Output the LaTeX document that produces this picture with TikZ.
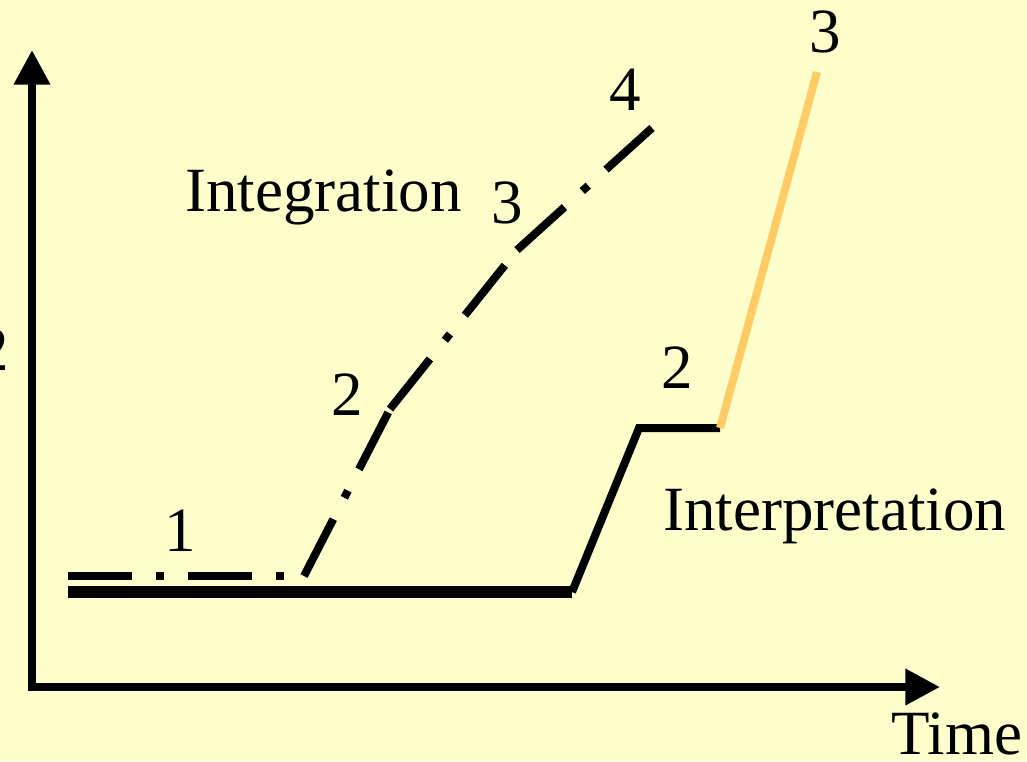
\documentclass[tikz,border=0pt]{standalone}
\usepackage{fontspec}
\setmainfont{Liberation Serif}
\usetikzlibrary{arrows.meta}
\definecolor{bgyellow}{HTML}{FFFFCC}
\definecolor{orangeline}{HTML}{FFCC66}
\begin{document}
\begin{tikzpicture}[x=0.75pt,y=-0.75pt,
  lbl/.style={inner sep=0pt,font=\fontsize{47.25}{50}\selectfont},
  axis/.style={line width=6pt,line join=miter,
    {Triangle[length=26pt,width=26pt]}-{Triangle[length=26pt,width=26pt]}},
  interp/.style={line width=6pt,line join=miter},
  integ/.style={line width=6pt,dash pattern=on 48pt off 18pt on 6pt off 18pt},
  finalseg/.style={line width=6pt,orangeline}]
\fill[bgyellow] (0,0) rectangle (1027,761);
\useasboundingbox (0,0) rectangle (1027,761);
% clipped label fragment at the left edge
\node[lbl,anchor=base east] (ylab) at (9,370) {2};
% axes
\coordinate (ytip) at (32,50);
\coordinate (origin) at (32,687);
\coordinate (xtip) at (940,687);
\draw[axis] (ytip) -- (origin) -- (xtip);
% interpretation curve
\coordinate (a0) at (68,592);
\coordinate (a1) at (572,592);
\coordinate (a2) at (639,428);
\coordinate (a3) at (720,428);
\coordinate (a4) at (817,72);
\draw[line width=8.5pt] (a0) -- (a1);
\draw[interp] (a1) -- (a2) -- (a3);
\draw[finalseg] (a3) -- (a4);
% integration curve
\coordinate (b0) at (68,576);
\coordinate (b1) at (304,576);
\coordinate (b2) at (390,409);
\coordinate (b3) at (517,250);
\coordinate (b4) at (652,128);
\draw[integ] (b0) -- (b1);
\draw[integ] (b1) -- (b2);
\draw[integ] (b2) -- (b3);
\draw[integ] (b3) -- (b4);
% labels
\node[lbl,anchor=base] (n1) at (180,551) {1};
\node[lbl,anchor=base] (n2) at (347,415) {2};
\node[lbl,anchor=base] (n3) at (507,223) {3};
\node[lbl,anchor=base] (n4) at (625,110) {4};
\node[lbl,anchor=base] (m2) at (677,388) {2};
\node[lbl,anchor=base] (m3) at (825,52) {3};
\node[lbl,anchor=base west] (integ) at (185,211) {Integration};
\node[lbl,anchor=base west] (interp) at (663,530) {Interpretation};
\node[lbl,anchor=base west] (time) at (891,754) {Time};
\end{tikzpicture}
\end{document}
